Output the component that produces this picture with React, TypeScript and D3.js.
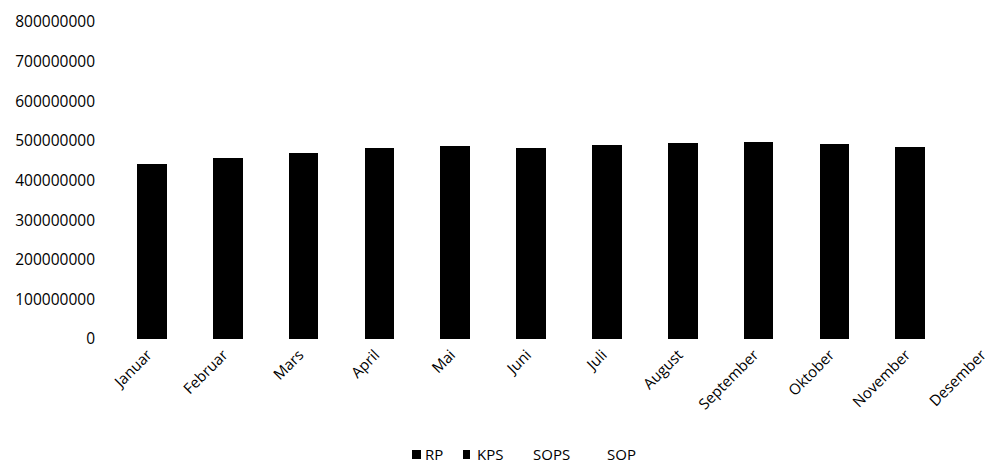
import React from "react";
import * as d3 from "d3";

const months = ["Januar", "Februar", "Mars", "April", "Mai", "Juni", "Juli", "August", "September", "Oktober", "November", "Desember"];
const seriesNames = ["RP", "KPS", "SOPS", "SOP"];
const seriesColors = ["#000000", "#000000", "#ffffff", "#ffffff"];
const rp = [242000000, 243000000, 245000000, 248000000, 250000000, 248000000, 255000000, 252000000, 256000000, 252000000, 258000000, 0];
const kps = [200000000, 214000000, 224000000, 235000000, 237000000, 235000000, 234000000, 242000000, 240000000, 239000000, 227000000, 0];
const sops = [0, 0, 0, 0, 0, 0, 0, 0, 0, 0, 0, 0];
const sop = [0, 0, 0, 0, 0, 0, 0, 0, 0, 0, 0, 0];
const yTicks = [0, 100000000, 200000000, 300000000, 400000000, 500000000, 600000000, 700000000, 800000000];

const W = 990;
const H = 464;
const FONT = "'Open Sans', sans-serif";

export default function App() {
  const x = d3.scaleBand<string>().domain(months).range([114, 1024]).paddingInner(0.61).paddingOuter(0.305);
  const y = d3.scaleLinear().domain([0, 800000000]).range([339, 22]);
  const table = months.map((m, i) => ({ month: m, RP: rp[i], KPS: kps[i], SOPS: sops[i], SOP: sop[i] }));
  const stacked = d3.stack<any>().keys(seriesNames)(table);

  const legendItems = [
    { name: "RP", sx: 412, sw: 9, tx: 425 },
    { name: "KPS", sx: 463, sw: 7, tx: 477 },
    { name: "SOPS", sx: 520, sw: 8, tx: 533 },
    { name: "SOP", sx: 594, sw: 8, tx: 607 },
  ];

  return (
    <svg width={W} height={H} style={{ position: "fixed", left: 0, top: 0, background: "#fff" }} fontFamily={FONT}>
      <rect x={0} y={0} width={W} height={H} fill="#fff" />
      {yTicks.map((t) => (
        <text key={t} x={95} y={y(t)} dy="0.35em" textAnchor="end" fontSize={15.5} fill="#000">
          {t}
        </text>
      ))}
      {stacked.map((s, si) => (
        <g key={s.key} fill={seriesColors[si]} shapeRendering="crispEdges">
          {s.map((d, i) =>
            d[1] - d[0] > 0 ? (
              <rect
                key={i}
                x={x(months[i])!}
                y={y(d[1])}
                width={x.bandwidth()}
                height={y(d[0]) - y(d[1]) + (si === 0 ? 0 : 1)}
              />
            ) : null
          )}
        </g>
      ))}
      {months.map((m) => {
        const cx = x(m)! + x.bandwidth() / 2 + 1;
        const cy = 356;
        return (
          <text key={m} transform={`translate(${cx},${cy}) rotate(-45)`} textAnchor="end" fontSize={15} fill="#000">
            {m}
          </text>
        );
      })}
      {legendItems.map((it, i) => (
        <g key={it.name}>
          <rect x={it.sx} y={450} width={it.sw} height={9} fill={seriesColors[i]} />
          <text x={it.tx} y={455} dy="0.35em" fontSize={15} fill="#000">
            {it.name}
          </text>
        </g>
      ))}
    </svg>
  );
}
